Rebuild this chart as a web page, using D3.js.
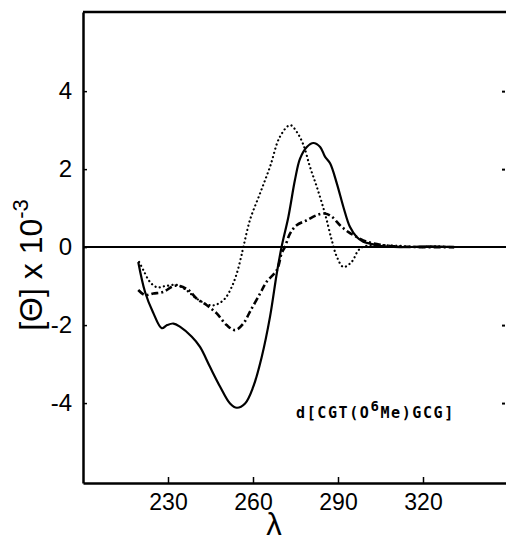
<!doctype html>
<html>
  <head>
    <meta charset="utf-8">
    <title>CD spectrum</title>
    <script src="https://cdn.jsdelivr.net/npm/d3@7"></script>
    <style>
      body { margin: 0; background: #fff; }
      text { font-family: "Liberation Sans", Arial, sans-serif; fill: #000; }
    </style>
  </head>
  <body>
    <script>
      // wavelength (nm) and [θ] x 10^-3
      const solidNm  = [219.5, 221.9, 224.7, 227.8, 229.7, 231.9, 234.2, 238.4, 241.3, 244.8, 248.4, 251.9, 254.3, 257.2, 260.1, 263.1, 266.0, 268.4, 270.1, 272.5, 274.8, 276.6, 279.0, 281.3, 283.7, 285.4, 287.2, 289.6, 291.9, 294.2, 296.6, 298.9, 301.3, 304.8, 311.9, 322, 331];
      const solidVal = [-0.38, -1.15, -1.67, -2.08, -2.0, -1.96, -2.04, -2.30, -2.56, -3.07, -3.58, -4.01, -4.12, -4.01, -3.58, -2.81, -1.79, -0.67, 0.01, 0.78, 1.72, 2.27, 2.57, 2.67, 2.57, 2.32, 2.15, 1.63, 1.03, 0.52, 0.26, 0.14, 0.09, 0.03, 0.0, 0.02, 0.0];

      const dotNm  = [219.8, 221.3, 223.6, 226.1, 228.9, 233.1, 236.4, 240.1, 244.8, 247.2, 250.1, 252.5, 254.3, 255.8, 256.6, 258.9, 262.5, 266.0, 269.5, 273.1, 275.4, 277.8, 280.1, 282.5, 285.4, 287.8, 289.6, 291.9, 294.8, 297.2, 298.9, 304.8, 312, 319, 325, 331];
      const dotVal = [-0.38, -0.59, -0.89, -1.03, -1.0, -0.97, -1.10, -1.32, -1.49, -1.47, -1.32, -1.02, -0.67, -0.25, 0.0, 0.69, 1.38, 2.06, 2.83, 3.13, 2.96, 2.62, 2.06, 1.55, 0.86, 0.18, -0.25, -0.51, -0.38, -0.08, 0.01, 0.05, 0.03, 0.0, 0.02, 0.0];

      const dashNm  = [219.5, 221.9, 224.8, 228.3, 231.9, 234.2, 237.2, 240.1, 243.7, 247.2, 250.7, 253.7, 256.6, 258.9, 262.5, 264.8, 268.4, 270.1, 271.3, 273.1, 275.4, 279.0, 282.5, 285.4, 287.8, 290.7, 293.6, 296.6, 300.1, 303.7, 308.4, 319, 331];
      const dashVal = [-1.10, -1.23, -1.19, -1.15, -1.00, -1.00, -1.10, -1.32, -1.49, -1.70, -2.0, -2.13, -1.96, -1.66, -1.19, -0.89, -0.59, -0.16, 0.01, 0.35, 0.56, 0.69, 0.82, 0.86, 0.78, 0.56, 0.39, 0.26, 0.14, 0.08, 0.03, 0.0, 0.0];

      const xTicks = [230, 260, 290, 320];
      const yTicks = [-4, -2, 0, 2, 4];

      const width = 506;
      const height = 543;

      const svg = d3.select('body').append('svg')
          .attr('width', width)
          .attr('height', height);

      const x = d3.scaleLinear().domain([200, 350]).range([83, 508]);
      const y = d3.scaleLinear().domain([-6.05, 6.03]).range([483, 12]);

      // frame: top line and zero line
      svg.append('line')
          .attr('x1', x(200)).attr('x2', width)
          .attr('y1', y(6.03)).attr('y2', y(6.03))
          .attr('stroke', '#000').attr('stroke-width', 2.5);
      svg.append('line')
          .attr('x1', x(200)).attr('x2', width)
          .attr('y1', y(0)).attr('y2', y(0))
          .attr('stroke', '#000').attr('stroke-width', 2);

      // bottom axis
      const gx = svg.append('g')
          .attr('transform', `translate(0, ${y(-6.05)})`)
          .call(d3.axisBottom(x).tickValues(xTicks).tickSizeInner(-6).tickSizeOuter(0).tickPadding(11));
      gx.select('.domain').attr('stroke-width', 2.5);
      gx.selectAll('.tick line').attr('stroke-width', 1.5);
      gx.selectAll('.tick text').attr('font-size', 23).attr('font-family', '"Liberation Sans", Arial, sans-serif');

      // left axis
      const gy = svg.append('g')
          .attr('transform', `translate(${x(200)}, 0)`)
          .call(d3.axisLeft(y).tickValues(yTicks).tickSizeInner(-4).tickSizeOuter(0).tickPadding(11)
            .tickFormat(d => d < 0 ? '-' + Math.abs(d) : d));
      gy.select('.domain').attr('stroke-width', 2.5);
      gy.selectAll('.tick line').attr('stroke-width', 1.5);
      gy.selectAll('.tick text').attr('font-size', 24).attr('font-family', '"Liberation Sans", Arial, sans-serif');

      // small ticks at the right edge
      const gr = svg.append('g')
          .attr('transform', 'translate(505, 0)')
          .call(d3.axisRight(y).tickValues([-4, -2, 2, 4]).tickSizeInner(-3).tickSizeOuter(0).tickFormat(''));
      gr.select('.domain').remove();
      gr.selectAll('.tick line').attr('stroke-width', 2);

      // curves
      const line = d3.line()
          .x(d => x(d[0]))
          .y(d => y(d[1]))
          .curve(d3.curveCatmullRom);

      svg.append('path')
          .datum(d3.zip(solidNm, solidVal))
          .attr('d', line)
          .attr('fill', 'none').attr('stroke', '#000').attr('stroke-width', 2.2);

      svg.append('path')
          .datum(d3.zip(dotNm, dotVal))
          .attr('d', line)
          .attr('fill', 'none').attr('stroke', '#000').attr('stroke-width', 2.2)
          .attr('stroke-linecap', 'round')
          .attr('stroke-dasharray', '0.1 4.2');

      svg.append('path')
          .datum(d3.zip(dashNm, dashVal))
          .attr('d', line)
          .attr('fill', 'none').attr('stroke', '#000').attr('stroke-width', 2.6)
          .attr('stroke-dasharray', '7 3 2 3');

      // y axis title
      const yt = svg.append('text')
          .attr('transform', 'translate(42, 265) rotate(-90)')
          .attr('text-anchor', 'middle')
          .attr('font-size', 32);
      yt.append('tspan').text('[Θ] x 10');
      yt.append('tspan').attr('dy', -14).attr('font-size', 22).text('-3');

      // x axis title
      svg.append('text')
          .attr('x', 274).attr('y', 535)
          .attr('text-anchor', 'middle')
          .attr('font-size', 31)
          .attr('font-family', '"DejaVu Sans", sans-serif')
          .text('λ');

      // sample label
      const lab = svg.append('text')
          .attr('x', 296).attr('y', 418)
          .attr('font-size', 15)
          .attr('font-weight', 'bold')
          .attr('letter-spacing', 1.6)
          .style('font-family', '"DejaVu Sans Mono", monospace');
      lab.append('tspan').text('d[CGT(O');
      lab.append('tspan').attr('dy', -7).attr('font-size', 14).text('6');
      lab.append('tspan').attr('dy', 7).text('Me)GCG]');
    </script>
  </body>
</html>
